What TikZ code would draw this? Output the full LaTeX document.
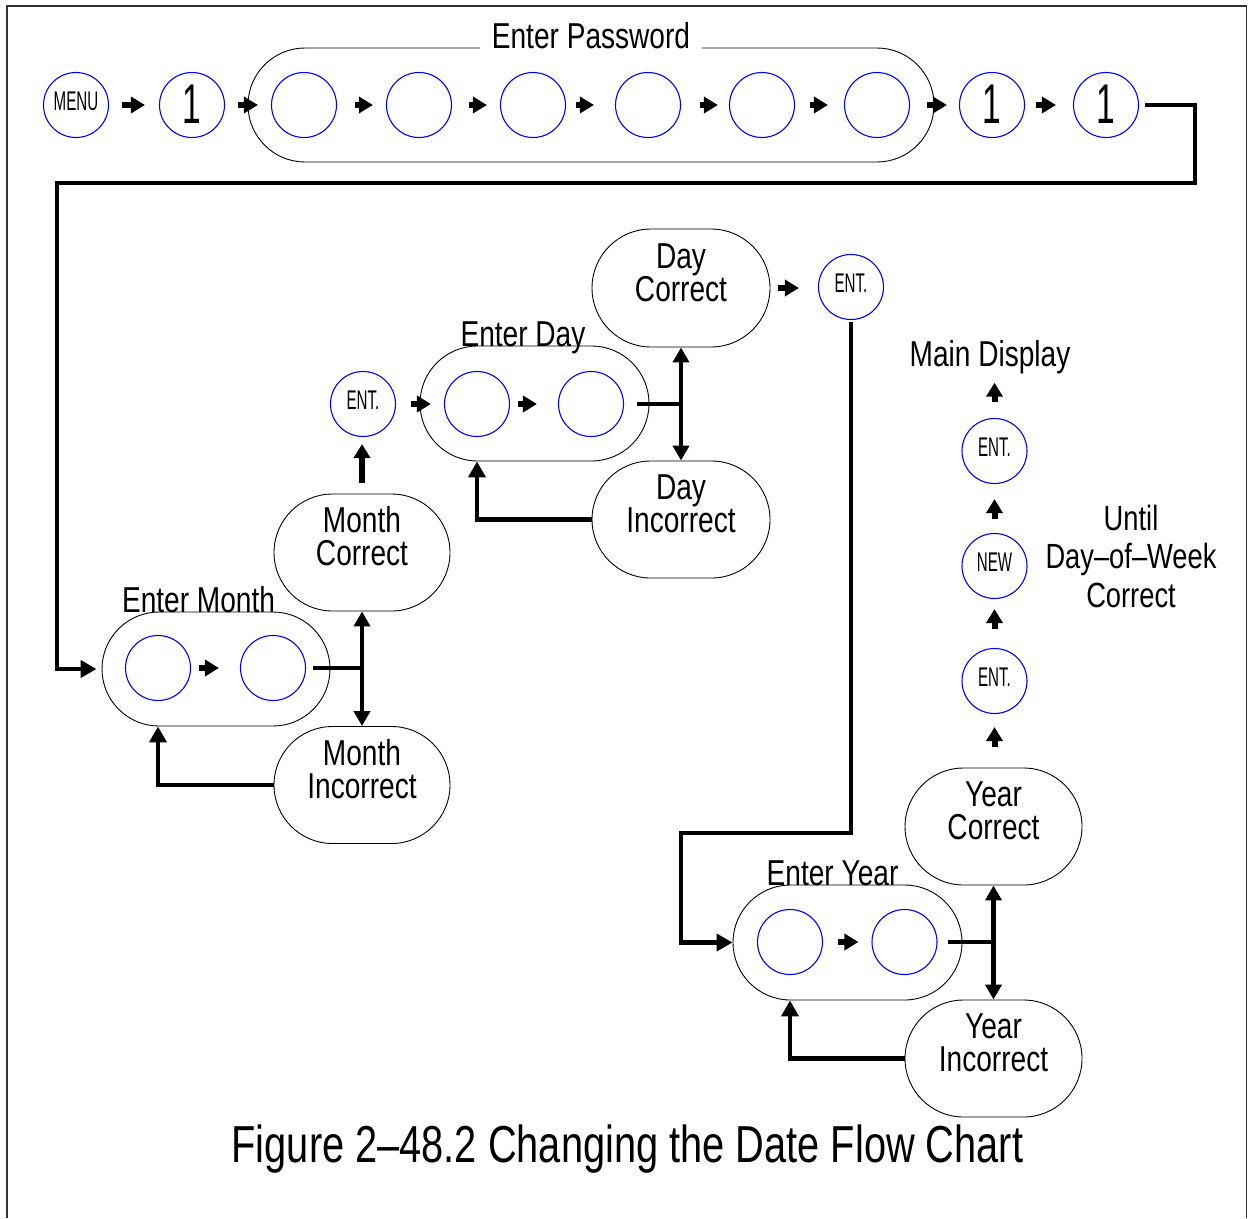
\documentclass[tikz,border=0pt]{standalone}
\usepackage{fontspec}
\setmainfont{Liberation Sans}
\newfontfamily\lblfont[FakeStretch=0.78]{Liberation Sans}
\newfontfamily\capfont[FakeStretch=0.765]{Liberation Sans}
\newfontfamily\cirfont[FakeStretch=0.56]{Liberation Sans}
\newfontfamily\onefont[FakeStretch=0.6]{Liberation Sans}
\newcommand{\kt}[1]{\raisebox{8pt}{#1}}
\usetikzlibrary{arrows.meta,calc,shapes.misc}
\begin{document}
\begin{tikzpicture}[x=1pt,y=-1pt,
  key/.style={circle,draw=blue,line width=1.1pt,minimum size=65pt,inner sep=0pt,
    font=\cirfont\fontsize{27}{27}\selectfont},
  onekey/.style={key,font=\onefont\fontsize{56}{56}\selectfont},
  capsule/.style={rounded rectangle,draw,line width=0.9pt,inner sep=0pt},
  lbl/.style={font=\lblfont\fontsize{36}{33}\selectfont,inner sep=0pt,align=center},
  conn/.style={line width=4.5pt,-{Triangle[length=16pt,width=17pt]}},
  dbl/.style={line width=4.5pt,{Triangle[length=15pt,width=16pt]}-{Triangle[length=15pt,width=16pt]}},
  sarr/.style={line width=6pt,-{Triangle[length=14pt,width=16pt]}},
  plain/.style={line width=4.5pt},
]
\useasboundingbox (0,0) rectangle (1249,1218);
% frame
\draw[line width=1.5pt,black!80] (7,1218) -- (7,6) -- (1246.5,6) -- (1246.5,1218);

% ---- password row
\node[capsule,minimum width=686pt,minimum height=114pt] (pw) at (591,105) {};
\node[lbl,fill=white,inner xsep=12pt,inner ysep=3pt,anchor=base] (pwl) at (591,48) {Enter Password};
\node[key] (menu) at (76,105) {\kt{MENU}};
\node[onekey] (k1) at (192,105) {\raisebox{2pt}{1}};
\node[key] (p1) at (304,105) {};
\node[key] (p2) at (419,105) {};
\node[key] (p3) at (533,105) {};
\node[key] (p4) at (648,105) {};
\node[key] (p5) at (762,105) {};
\node[key] (p6) at (877,105) {};
\node[onekey] (k2) at (992,105) {\raisebox{2pt}{1}};
\node[onekey] (k3) at (1106,105) {\raisebox{2pt}{1}};
\draw[sarr,shorten <=13pt,shorten >=14pt] (menu) -- (k1);
\draw[sarr,shorten <=13pt,shorten >=13pt] (k1) -- (p1);
\draw[sarr,shorten <=18pt,shorten >=13pt] (p1) -- (p2);
\draw[sarr,shorten <=17pt,shorten >=13pt] (p2) -- (p3);
\draw[sarr,shorten <=10pt,shorten >=21pt] (p3) -- (p4);
\draw[sarr,shorten <=19pt,shorten >=11pt] (p4) -- (p5);
\draw[sarr,shorten <=15pt,shorten >=16pt] (p5) -- (p6);
\draw[sarr,shorten <=17pt,shorten >=12pt] (p6) -- (k2);
\draw[sarr,shorten <=11pt,shorten >=17pt] (k2) -- (k3);

% ---- month
\node[capsule,minimum width=228pt,minimum height=114pt] (em) at (216,669) {};
\node[lbl,anchor=base] (eml) at (198.5,612) {Enter Month};
\node[key] (m1) at (158,668) {};
\node[key] (m2) at (273,668) {};
\draw[sarr,shorten <=8pt,shorten >=21pt] (m1) -- (m2);
\node[capsule,minimum width=176pt,minimum height=117pt] (mc) at (362,552.5) {};
\node[lbl] (mcl) at (362,536.5) {Month\\Correct};
\node[capsule,minimum width=176pt,minimum height=117pt] (mi) at (362,785) {};
\node[lbl] (mil) at (362,769) {Month\\Incorrect};
\draw[plain] ([xshift=7pt]m2.east) -- (m2.east -| mc.south);
\draw[dbl] (mc.south) -- (mi.north);
\draw[conn] (mi.west) -| (m1 |- em.south);
\node[key] (e1) at (363,404) {\kt{ENT.}};
\draw[sarr,shorten <=11pt,shorten >=7pt] (mc.north) -- (mc.north |- e1.south);

% ---- long connector from password row to month
\coordinate (r1) at (1195,183);
\coordinate (l1) at (57,183);
\draw[conn,shorten >=5pt] ([xshift=6pt]k3.east) -| (r1) -- (l1) |- (em.west);

% ---- day
\node[capsule,minimum width=229pt,minimum height=115pt] (ed) at (534.5,403.5) {};
\node[lbl,anchor=base] (edl) at (523,346) {Enter Day};
\node[key] (d1) at (477,404) {};
\node[key] (d2) at (591,404) {};
\draw[sarr,shorten <=15pt,shorten >=13pt] (e1) -- (d1);
\draw[sarr,shorten <=8pt,shorten >=21pt] (d1) -- (d2);
\node[capsule,minimum width=178pt,minimum height=118pt] (dc) at (681,288) {};
\node[lbl] (dcl) at (681,272.5) {Day\\Correct};
\node[capsule,minimum width=178pt,minimum height=117pt] (di) at (681,519.5) {};
\node[lbl] (dil) at (681,503.5) {Day\\Incorrect};
\draw[plain] ([xshift=13pt]d2.east) -- (d2.east -| dc.south);
\draw[dbl] (dc.south) -- (di.north);
\draw[conn] (di.west) -| (d1 |- ed.south);
\node[key] (e2) at (851,287) {\kt{ENT.}};
\draw[sarr,shorten <=8pt,shorten >=19pt] (dc.east) -- (dc.east -| e2.west);

% ---- year
\node[capsule,minimum width=229pt,minimum height=115pt] (ey) at (847.5,942.5) {};
\node[lbl,anchor=base] (eyl) at (832.5,885) {Enter Year};
\node[key] (y1) at (790,942) {};
\node[key] (y2) at (904.5,942) {};
\draw[sarr,shorten <=15pt,shorten >=13pt] (y1) -- (y2);
\coordinate (t1) at (681,833);
\draw[conn] ([yshift=-2pt]e2.south) |- (t1) |- (ey.west);
\node[capsule,minimum width=177pt,minimum height=117pt] (yc) at (993.5,826.5) {};
\node[lbl] (ycl) at (993.5,811) {Year\\Correct};
\node[capsule,minimum width=177pt,minimum height=117pt] (yi) at (993.5,1058.5) {};
\node[lbl] (yil) at (993.5,1043) {Year\\Incorrect};
\draw[plain] ([xshift=10pt]y2.east) -- (y2.east -| yc.south);
\draw[dbl] (yc.south) -- (yi.north);
\draw[conn] (yi.west) -| (y1 |- ey.south);

% ---- right column
\node[key] (e3) at (994.5,681) {\kt{ENT.}};
\node[key] (nw) at (994.5,566) {\kt{NEW}};
\node[key] (e4) at (994.5,451) {\kt{ENT.}};
\node[lbl,anchor=base] (md) at (990,366) {Main Display};
\draw[sarr,shorten <=21pt,shorten >=13pt] (yc.north -| e3.south) -- (e3.south);
\draw[sarr,shorten <=19pt,shorten >=10pt] (e3.north) -- (nw.south);
\draw[sarr,shorten <=14pt,shorten >=15pt] (nw.north) -- (e4.south);
\draw[sarr,shorten <=16pt,shorten >=9pt] (e4.north) -- (e4.north |- md.south);
\node[font=\lblfont\fontsize{35}{38.5}\selectfont,align=center,inner sep=0pt] (until) at (1131,556) {Until\\Day–of–Week\\Correct};

% ---- caption
\node[font=\capfont\fontsize{52}{52}\selectfont,anchor=base,inner sep=0pt] (cap) at (627.5,1162) {Figure 2–48.2 Changing the Date Flow Chart};
\end{tikzpicture}
\end{document}
